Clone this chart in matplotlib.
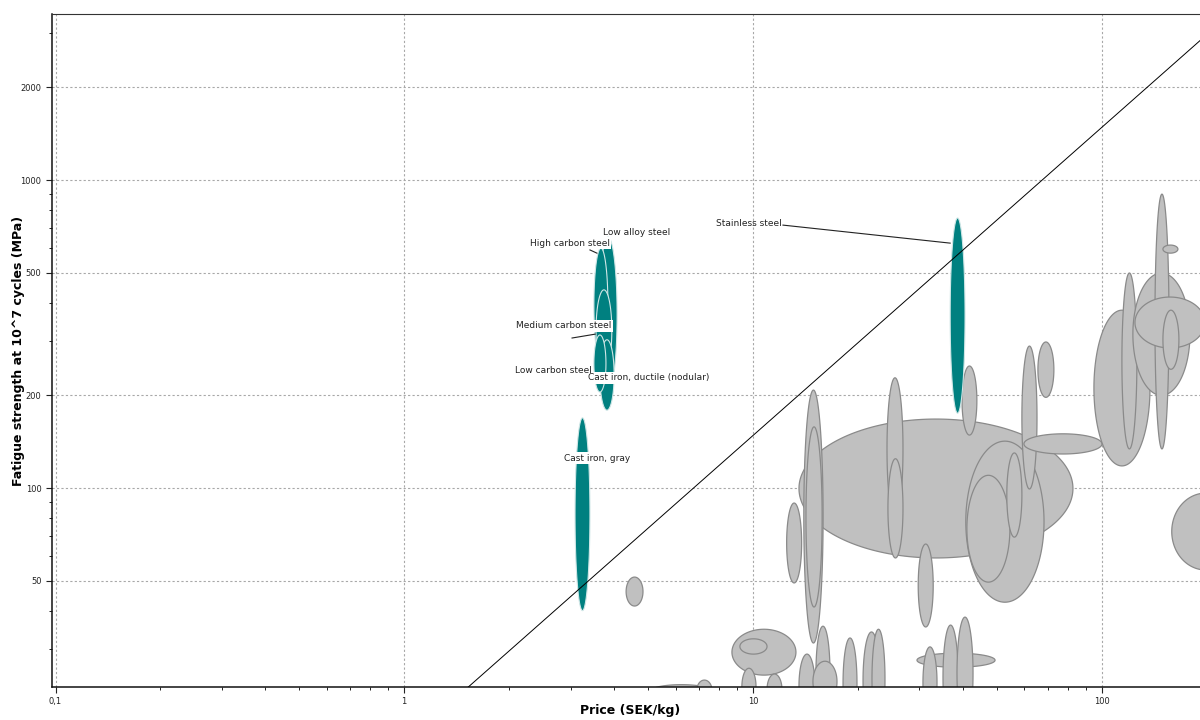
import numpy as np
import matplotlib.pyplot as plt
from matplotlib.ticker import FixedLocator, LogLocator, NullFormatter


# highlighted materials (teal), ranges of price (SEK/kg) and fatigue strength (MPa)
hl_names = ["Low alloy steel", "High carbon steel", "Medium carbon steel",
            "Cast iron, ductile (nodular)", "Low carbon steel",
            "Cast iron, gray", "Stainless steel"]
hl_price_lo = [3.62, 3.50, 3.55, 3.64, 3.50, 3.09, 36.8]
hl_price_hi = [4.08, 3.84, 3.94, 4.00, 3.79, 3.41, 40.6]
hl_fat_lo = [205, 255, 240, 179, 205, 40, 175]
hl_fat_hi = [653, 601, 440, 303, 314, 169, 753]

# label placement for the highlighted materials
label_x = [3.72, 3.89, 3.94, 3.37, 3.46, 3.57, 12.1]
label_y = [678, 624, 336, 228, 241, 125, 725]
label_ha = ["left", "right", "right", "left", "right", "center", "right"]
label_box = [False, True, True, True, False, True, False]

# leader lines (x0, y0) -> (x1, y1)
leader_x0 = [12.2, 3.03, 3.41]
leader_y0 = [714, 307, 593]
leader_x1 = [36.8, 3.53, 3.57]
leader_y1 = [624, 316, 579]

# other materials (grey), in drawing order
bg_price_lo = [4.33, 5.07, 6.91, 8.71, 9.18, 9.30, 10.98, 12.5, 13.56, 14.0,
               14.2, 13.56, 15.17, 14.87, 18.14, 20.7, 21.96, 24.25, 24.4, 29.8,
               29.56, 30.75, 35.1, 38.5, 39.8, 40.8, 41.1, 53.5, 59.1, 65.7,
               59.9, 95.1, 114.4, 123.0, 142.3, 124.7, 150.0, 150.0, 159.0]
bg_price_hi = [4.84, 7.68, 7.63, 13.29, 10.98, 10.21, 12.12, 13.8, 82.8, 15.9,
               15.8, 15.07, 16.64, 17.43, 19.89, 23.15, 23.93, 26.95, 26.95, 32.9,
               49.5, 33.74, 38.8, 42.8, 43.9, 68.4, 54.6, 59.1, 65.3, 73.0,
               100.3, 137.7, 126.3, 179.3, 156.1, 197.9, 166.7, 165.6, 249.0]
bg_fat_lo = [41.4, 20.8, 20.5, 24.7, 28.9, 19.7, 19.7, 49.2, 59.3, 31.4,
             41.1, 17.9, 17.9, 20.2, 16.5, 16.5, 16.5, 78.7, 59.3, 35.4,
             26.2, 17.9, 16.5, 16.5, 148.6, 42.6, 49.5, 69.3, 99.3, 197,
             129, 118, 134, 200, 134, 285, 243, 579, 54.2]
bg_fat_hi = [51.4, 23.0, 23.8, 34.8, 32.4, 26.0, 24.9, 89.4, 167.5, 208,
             158, 28.9, 35.6, 27.4, 32.6, 34.1, 34.8, 228, 124.5, 65.8,
             29.1, 30.5, 35.9, 38.1, 249, 142, 110, 130, 289, 298,
             150, 378, 499, 499, 900, 417, 378, 615, 96.3]

# performance index guide line: fatigue = guide_c * price
guide_c = 14.8

x_min, x_max = 0.0977, 202
y_min, y_max = 22.6, 3460


def bubble(ax, xlo, xhi, ylo, yhi, **kw):
    # ellipse in log-log space spanning the property ranges
    t = np.linspace(0, 2 * np.pi, 200)
    lx0, lx1 = np.log10(xlo), np.log10(xhi)
    ly0, ly1 = np.log10(ylo), np.log10(yhi)
    cx, cy = (lx0 + lx1) / 2, (ly0 + ly1) / 2
    a, b = (lx1 - lx0) / 2, (ly1 - ly0) / 2
    ax.fill(10 ** (cx + a * np.cos(t)), 10 ** (cy + b * np.sin(t)), **kw)


fig = plt.figure(figsize=(12, 7.2), dpi=100)
ax = fig.add_axes([52 / 1200, 33 / 720, 1156 / 1200, 673 / 720])
ax.set_xscale("log")
ax.set_yscale("log")
ax.set_xlim(x_min, x_max)
ax.set_ylim(y_min, y_max)

for xl, xh, yl, yh in zip(bg_price_lo, bg_price_hi, bg_fat_lo, bg_fat_hi):
    bubble(ax, xl, xh, yl, yh, facecolor="#c0c0c0", edgecolor="#8a8a8a",
           linewidth=0.9, zorder=2)

for xl, xh, yl, yh in zip(hl_price_lo, hl_price_hi, hl_fat_lo, hl_fat_hi):
    bubble(ax, xl, xh, yl, yh, facecolor="#008080", edgecolor="#cfe6e6",
           linewidth=0.8, zorder=3)

gx = np.array([x_min, x_max])
ax.plot(gx, guide_c * gx, color="black", linewidth=0.7, zorder=4)

for x0, y0, x1, y1 in zip(leader_x0, leader_y0, leader_x1, leader_y1):
    ax.plot([x0, x1], [y0, y1], color="#222222", linewidth=0.8, zorder=5)

for name, x, y, ha, box in zip(hl_names, label_x, label_y, label_ha, label_box):
    bb = dict(facecolor="white", edgecolor="none", pad=1.0) if box else None
    ax.text(x, y, name, ha=ha, va="center", fontsize=6.5, color="#222222",
            bbox=bb, zorder=6)

# ticks and grid
ax.xaxis.set_major_locator(FixedLocator([0.1, 1, 10, 100]))
ax.set_xticklabels(["0,1", "1", "10", "100"])
ax.xaxis.set_minor_locator(LogLocator(base=10, subs=np.arange(2, 10)))
ax.xaxis.set_minor_formatter(NullFormatter())
ax.yaxis.set_major_locator(FixedLocator([50, 100, 200, 500, 1000, 2000]))
ax.set_yticklabels(["50", "100", "200", "500", "1000", "2000"])
ax.yaxis.set_minor_locator(LogLocator(base=10, subs=np.arange(1, 10)))
ax.yaxis.set_minor_formatter(NullFormatter())
ax.tick_params(which="major", direction="out", length=4, width=0.8,
               labelsize=6, colors="#222222")
ax.tick_params(which="minor", direction="out", length=2.5, width=0.7,
               colors="#222222")
ax.grid(which="major", linestyle=(0, (2, 2)), color="#a8a8a8", linewidth=0.8,
        zorder=0)
ax.set_axisbelow(True)

for side in ["left", "bottom"]:
    ax.spines[side].set_linewidth(1.1)
    ax.spines[side].set_color("#111111")
ax.spines["top"].set_linewidth(0.8)
ax.spines["top"].set_color("#333333")

ax.set_xlabel("Price (SEK/kg)", fontsize=9, fontweight="bold")
ax.set_ylabel("Fatigue strength at 10^7 cycles (MPa)", fontsize=9,
              fontweight="bold")
ax.xaxis.set_label_coords(0.5, -0.025)
ax.yaxis.set_label_coords(-0.023, 0.5)

fig.savefig("out.png", dpi=100)
